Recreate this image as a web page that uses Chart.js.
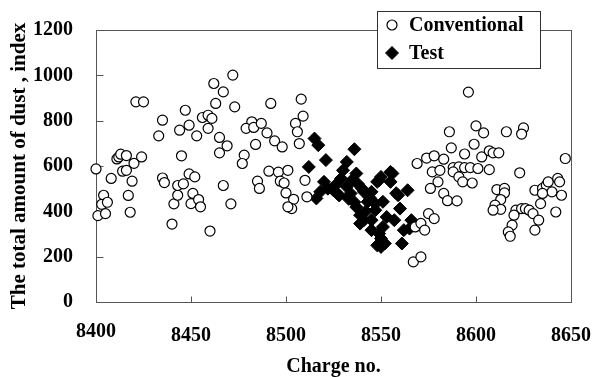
<!DOCTYPE html>
<html>
<head>
<meta charset="utf-8">
<script src="https://cdn.jsdelivr.net/npm/chart.js@4"></script>
<style>
  html, body { margin: 0; padding: 0; background: #fff; }
  #wrap { width: 605px; height: 377px; }
</style>
</head>
<body>
<div id="wrap"><canvas id="dustChart" width="605" height="377"></canvas></div>
<script>
const seriesNames = ['Conventional', 'Test'];

// Conventional charges
const convCharge = [
  8400, 8401, 8404, 8403, 8406, 8405, 8408, 8411, 8412, 8413, 8416, 8414, 8416, 8420, 8419, 8417, 8418,
  8424, 8421, 8425, 8433, 8435, 8435, 8436, 8440, 8441, 8443, 8443, 8446, 8445, 8444, 8447, 8449, 8449,
  8452, 8451, 8450, 8454, 8455, 8453, 8456, 8459, 8460, 8459, 8461, 8462, 8463, 8465, 8465, 8467, 8467,
  8469, 8471, 8472, 8473,
  8478, 8477, 8482, 8479, 8483, 8487, 8490, 8484, 8492, 8494, 8498, 8485, 8486, 8491, 8496, 8497, 8499,
  8501, 8500, 8504, 8503, 8501, 8508, 8509, 8505, 8506, 8507, 8510, 8511,
  8567, 8571, 8568, 8571, 8573, 8575, 8578, 8569, 8574, 8578, 8583, 8577, 8581, 8580, 8576, 8583, 8585,
  8590, 8586, 8587, 8596, 8600, 8604, 8599, 8594, 8588, 8591, 8594, 8597, 8588, 8591, 8593, 8598, 8601,
  8607, 8603, 8607, 8609, 8612, 8616, 8625, 8624, 8623, 8611, 8615, 8615, 8613, 8610, 8613, 8609, 8621,
  8624, 8626, 8628, 8630, 8620, 8619, 8617, 8618, 8633, 8631, 8634, 8631, 8635, 8637, 8638, 8643, 8644,
  8640, 8645, 8642, 8635, 8647
];
const convDust = [
  587, 381, 471, 431, 440, 390, 545, 631, 640, 652, 646, 577, 581, 612, 533, 470, 396,
  640, 883, 883, 733, 802, 547, 527, 344, 433, 471, 514, 521, 645, 758, 846, 780, 565,
  552, 479, 434, 452, 420, 733, 814, 824, 313, 766, 810, 964, 876, 726, 658, 514, 927,
  689, 433, 1001, 861,
  648, 611, 795, 766, 770, 788, 746, 695, 876, 711, 684, 533, 501, 577, 573, 533, 525,
  581, 481, 453, 412, 420, 895, 820, 788, 751, 699, 537, 464,
  177, 199, 331, 347, 317, 390, 368, 611, 635, 645, 630, 574, 581, 530, 501, 479, 447,
  446, 751, 680, 926, 777, 746, 696, 653, 593, 596, 593, 593, 574, 552, 530, 525, 589,
  584, 640, 667, 658, 658, 751, 768, 741, 570, 496, 501, 481, 452, 427, 409, 405, 405,
  412, 412, 405, 390, 383, 339, 309, 290, 361, 317, 434, 493, 501, 515, 530, 545, 530,
  486, 471, 397, 479, 633
];

// Test charges
const testCharge = [
  8512, 8515, 8517, 8521, 8520, 8516, 8518, 8522, 8526, 8525, 8527, 8529, 8530, 8532, 8532, 8534,
  8536, 8537, 8535, 8538, 8540, 8541, 8543, 8537, 8539, 8541, 8539, 8542, 8545, 8548, 8547, 8544,
  8545, 8547, 8548, 8550, 8551, 8555, 8553, 8557, 8560, 8559, 8564, 8545, 8551, 8550, 8552, 8562,
  8561, 8566, 8565, 8549, 8556, 8555, 8549, 8550, 8558, 8528, 8533, 8536
];
const testDust = [
  596, 721, 692, 626, 530, 457, 486, 500, 515, 493, 479, 545, 581, 618, 508, 479,
  674, 567, 540, 520, 500, 486, 442, 419, 383, 361, 346, 400, 317, 250, 405, 461,
  486, 434, 530, 552, 442, 574, 375, 361, 412, 471, 493, 361, 331, 280, 258, 317,
  258, 361, 324, 537, 567, 530, 302, 243, 480, 470, 455, 440
];

const xTicks = [8400, 8450, 8500, 8550, 8600, 8650];
const yTicks = [0, 200, 400, 600, 800, 1000, 1200];

const serif = "'Liberation Serif', 'Times New Roman', serif";
const axisColor = '#555';

function toPoints(xs, ys) {
  return xs.map((x, i) => ({ x: x, y: ys[i] }));
}

// closed frame plus short inward tick marks
const frameTicks = {
  id: 'frameTicks',
  beforeDatasetsDraw(chart) {
    const { ctx, chartArea: a, scales } = chart;
    const l = Math.round(a.left) + 0.5, r = Math.round(a.right) + 0.5;
    const t = Math.round(a.top) + 0.5, b = Math.round(a.bottom) + 0.5;
    ctx.save();
    ctx.strokeStyle = axisColor;
    ctx.lineWidth = 1;
    ctx.strokeRect(l, t, r - l, b - t);
    ctx.beginPath();
    scales.x.ticks.forEach(tk => {
      const px = Math.round(scales.x.getPixelForValue(tk.value)) + 0.5;
      ctx.moveTo(px, b);
      ctx.lineTo(px, b - 6);
    });
    scales.y.ticks.forEach(tk => {
      const py = Math.round(scales.y.getPixelForValue(tk.value)) + 0.5;
      ctx.moveTo(l, py);
      ctx.lineTo(l + 7, py);
    });
    ctx.stroke();
    ctx.restore();
  }
};

// boxed legend sitting across the top border
const boxLegend = {
  id: 'boxLegend',
  afterDraw(chart) {
    const { ctx, chartArea: a } = chart;
    const w = 163, h = 57;
    const left = Math.round(a.right) - 31 - w;
    const top = Math.round(a.top) - 19;
    ctx.save();
    ctx.fillStyle = '#fff';
    ctx.fillRect(left, top, w, h);
    ctx.strokeStyle = '#333';
    ctx.lineWidth = 1;
    ctx.strokeRect(left + 0.5, top + 0.5, w, h);
    ctx.font = 'bold 20px ' + serif;
    ctx.textBaseline = 'middle';
    ctx.textAlign = 'left';
    chart.data.datasets.forEach((ds, i) => {
      const cy = top + 14 + i * 28;
      ctx.fillStyle = ds.backgroundColor;
      ctx.strokeStyle = ds.borderColor;
      ctx.lineWidth = ds.borderWidth;
      Chart.helpers.drawPoint(ctx, {
        pointStyle: ds.pointStyle,
        radius: ds.pointRadius,
        borderWidth: ds.borderWidth,
        rotation: 0
      }, left + 15, cy);
      ctx.fillStyle = '#000';
      ctx.fillText(ds.label, left + 32, cy + 1);
    });
    ctx.restore();
  }
};

new Chart(document.getElementById('dustChart'), {
  type: 'scatter',
  data: {
    datasets: [
      {
        label: seriesNames[0],
        data: toPoints(convCharge, convDust),
        pointStyle: 'circle',
        pointRadius: 5,
        borderWidth: 1.2,
        borderColor: '#000',
        backgroundColor: '#fff',
        clip: false
      },
      {
        label: seriesNames[1],
        data: toPoints(testCharge, testDust),
        pointStyle: 'rectRot',
        pointRadius: 6.5,
        borderWidth: 1,
        borderColor: '#000',
        backgroundColor: '#000',
        clip: false
      }
    ]
  },
  options: {
    responsive: false,
    devicePixelRatio: 1,
    animation: false,
    layout: { padding: { top: 30, right: 22, left: 0, bottom: 0 } },
    plugins: {
      legend: { display: false },
      tooltip: { enabled: false }
    },
    scales: {
      x: {
        type: 'linear',
        min: 8400,
        max: 8650,
        afterBuildTicks: s => { s.ticks = xTicks.map(v => ({ value: v })); },
        afterFit: s => { s.height = 75; },
        grid: { display: false },
        border: { display: false },
        ticks: {
          padding: 14,
          color: '#000',
          maxRotation: 0,
          callback: v => String(v),
          font: ctx => ({
            family: serif, size: 20, weight: 'bold',
            lineHeight: ctx.index === 0 ? 0.8 : 1.2
          })
        },
        title: {
          display: true,
          text: 'Charge no.',
          color: '#000',
          padding: { top: 0, bottom: 0 },
          font: { family: serif, size: 20, weight: 'bold', lineHeight: 1 }
        }
      },
      y: {
        min: 0,
        max: 1200,
        afterBuildTicks: s => { s.ticks = yTicks.map(v => ({ value: v })); },
        afterFit: s => { s.width = 96; },
        grid: { display: false },
        border: { display: false },
        ticks: {
          padding: 15,
          color: '#000',
          callback: v => String(v),
          font: { family: serif, size: 20, weight: 'bold' }
        },
        title: {
          display: true,
          text: 'The total amount of dust , index',
          color: '#000',
          padding: { top: 7, bottom: 0 },
          font: { family: serif, size: 21, weight: 'bold', lineHeight: 1.2 }
        }
      }
    }
  },
  plugins: [frameTicks, boxLegend]
});
</script>
</body>
</html>
